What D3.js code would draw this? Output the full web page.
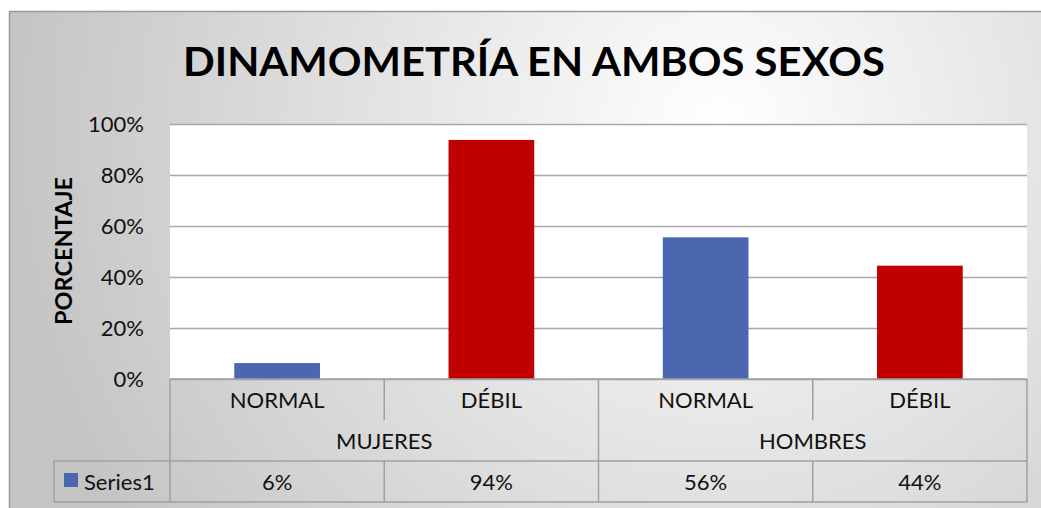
<!DOCTYPE html>
<html>
<head>
<meta charset="utf-8">
<script src="https://cdn.jsdelivr.net/npm/d3@7"></script>
<style>
  body { margin: 0; background: #fff; }
  svg { display: block; font-family: Lato, "Open Sans", sans-serif; }
</style>
</head>
<body>
<svg></svg>
<script>
const groups = ["MUJERES", "HOMBRES"];
const categories = ["NORMAL", "DÉBIL", "NORMAL", "DÉBIL"];
const groupOf = [0, 0, 1, 1];
const values = [0.0625, 0.9375, 0.5556, 0.4444];
const tableLabels = ["6%", "94%", "56%", "44%"];
const seriesName = "Series1";
const yTicks = [0, 0.2, 0.4, 0.6, 0.8, 1];

const width = 1041;
const height = 508;
const plot = { left: 170, right: 1027, top: 124, bottom: 379 };
const rowH = 41;
const fs = 22;

const blue = "#4a67b0";
const red = "#c00000";
const lineColor = "#a0a0a0";

const svg = d3.select("svg").attr("width", width).attr("height", height);

// background gradient
const defs = svg.append("defs");
const grad = defs.append("radialGradient")
  .attr("id", "bg")
  .attr("gradientUnits", "userSpaceOnUse")
  .attr("cx", 720).attr("cy", 130).attr("r", 720);
grad.append("stop").attr("offset", "0%").attr("stop-color", "#ffffff");
grad.append("stop").attr("offset", "100%").attr("stop-color", "#c4c4c4");

svg.append("rect")
  .attr("x", 9.5).attr("y", 11.5)
  .attr("width", width + 10).attr("height", height + 10)
  .attr("fill", "url(#bg)")
  .attr("stroke", "#999").attr("stroke-width", 1.5);

// plot area
svg.append("rect")
  .attr("x", plot.left).attr("y", plot.top)
  .attr("width", plot.right - plot.left).attr("height", plot.bottom - plot.top)
  .attr("fill", "#fff");

const xScale = d3.scaleBand()
  .domain(d3.range(categories.length))
  .range([plot.left, plot.right])
  .paddingInner(0.6)
  .paddingOuter(0.3);

const yScale = d3.scaleLinear().domain([0, 1]).range([plot.bottom, plot.top]);

// grid + y axis
const yAxis = d3.axisLeft(yScale)
  .tickValues(yTicks)
  .tickFormat(d3.format(".0%"))
  .tickSize(-(plot.right - plot.left))
  .tickPadding(26);

const yg = svg.append("g")
  .attr("transform", "translate(" + plot.left + ",0)")
  .call(yAxis);
yg.select(".domain").remove();
yg.selectAll(".tick line").attr("stroke", "#a8a8a8").attr("stroke-width", 1.5);
yg.selectAll(".tick text")
  .attr("font-size", fs).attr("fill", "#111")
  .attr("font-family", "Lato, sans-serif")
  .attr("dy", "0.35em");

// bars
svg.append("g").selectAll("rect")
  .data(values)
  .join("rect")
  .attr("x", (d, i) => xScale(i))
  .attr("width", xScale.bandwidth())
  .attr("y", (d) => yScale(d))
  .attr("height", (d) => yScale(0) - yScale(d))
  .attr("fill", (d, i) => (categories[i] === "NORMAL" ? blue : red));

// data table
const step = xScale.step();
const colX = (i) => plot.left + i * step;
const table = svg.append("g")
  .attr("stroke", lineColor).attr("stroke-width", 1.5).attr("fill", "none");

const r0 = plot.bottom, r1 = r0 + rowH, r2 = r1 + rowH, r3 = r2 + rowH;

table.append("line").attr("x1", plot.left).attr("x2", plot.right).attr("y1", r0).attr("y2", r0);
table.append("line").attr("x1", 54).attr("x2", plot.right).attr("y1", r2).attr("y2", r2);
table.append("line").attr("x1", 54).attr("x2", plot.right).attr("y1", r3).attr("y2", r3);
table.append("line").attr("x1", 54).attr("x2", 54).attr("y1", r2).attr("y2", r3);

d3.range(categories.length + 1).forEach((i) => {
  let top = r0, bottom = r3;
  if (i > 0 && i < categories.length && groupOf[i] === groupOf[i - 1]) {
    bottom = r1;
    table.append("line").attr("x1", colX(i)).attr("x2", colX(i)).attr("y1", r2).attr("y2", r3);
  }
  table.append("line").attr("x1", colX(i)).attr("x2", colX(i)).attr("y1", top).attr("y2", bottom);
});

const txt = svg.append("g")
  .attr("font-size", fs).attr("fill", "#111").attr("text-anchor", "middle");

txt.selectAll(".cat")
  .data(categories)
  .join("text")
  .attr("x", (d, i) => xScale(i) + xScale.bandwidth() / 2)
  .attr("y", r0 + 29)
  .text((d) => d);

txt.selectAll(".grp")
  .data(groups)
  .join("text")
  .attr("x", (d, gi) => {
    const idx = groupOf.map((g, i) => (g === gi ? i : -1)).filter((i) => i >= 0);
    return (colX(idx[0]) + colX(idx[idx.length - 1] + 1)) / 2;
  })
  .attr("y", r1 + 29)
  .text((d) => d);

txt.selectAll(".val")
  .data(tableLabels)
  .join("text")
  .attr("x", (d, i) => xScale(i) + xScale.bandwidth() / 2)
  .attr("y", r2 + 29)
  .text((d) => d);

// legend cell
svg.append("rect")
  .attr("x", 64).attr("y", 473).attr("width", 14).attr("height", 14)
  .attr("fill", blue);
svg.append("text")
  .attr("x", 84).attr("y", r2 + 29)
  .attr("font-size", fs).attr("fill", "#111")
  .text(seriesName);

// axis title
svg.append("text")
  .attr("transform", "translate(72, 251) rotate(-90)")
  .attr("text-anchor", "middle")
  .attr("font-size", 22).attr("font-weight", "bold").attr("fill", "#000")
  .attr("textLength", 148).attr("lengthAdjust", "spacingAndGlyphs")
  .text("PORCENTAJE");

// chart title
svg.append("text")
  .attr("x", 534).attr("y", 76)
  .attr("text-anchor", "middle")
  .attr("font-size", 40).attr("font-weight", "bold").attr("fill", "#000")
  .attr("textLength", 702).attr("lengthAdjust", "spacingAndGlyphs")
  .text("DINAMOMETRÍA EN AMBOS SEXOS");
</script>
</body>
</html>
